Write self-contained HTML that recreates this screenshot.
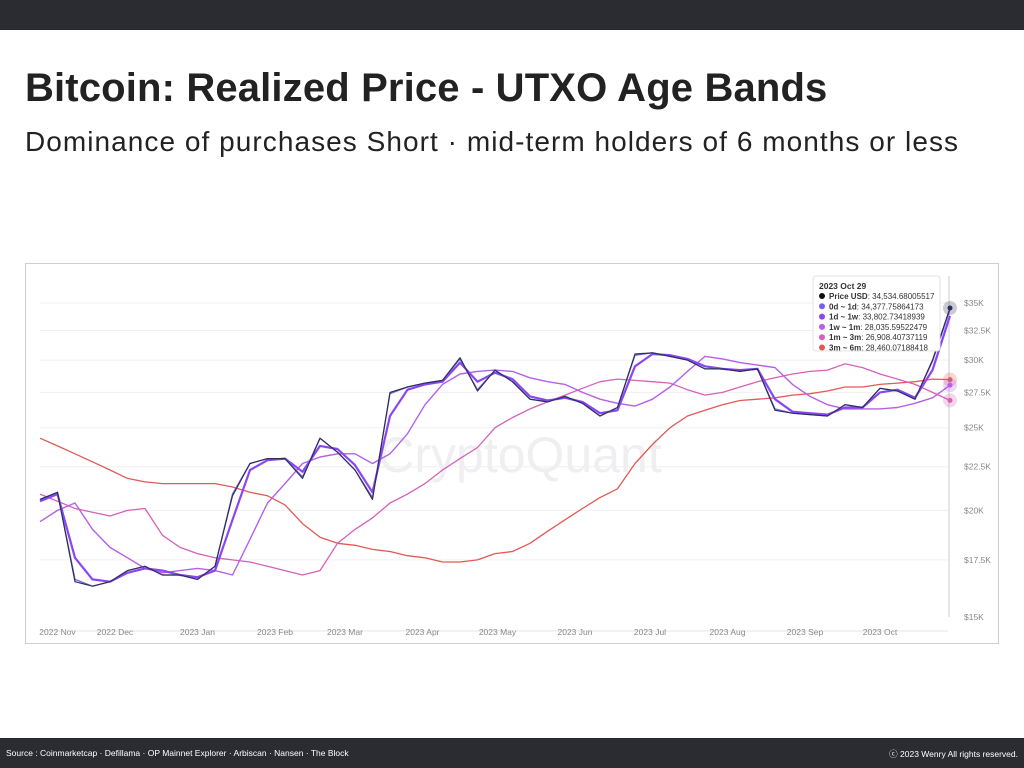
<!DOCTYPE html>
<html><head><meta charset="utf-8"><style>
body{margin:0;width:1024px;height:768px;overflow:hidden;background:#fff;font-family:"Liberation Sans",sans-serif;position:relative}
.top{position:absolute;left:0;top:0;width:1024px;height:30px;background:#2a2c31}
.foot{position:absolute;left:0;top:738px;width:1024px;height:30px;background:#2a2c31;color:#fff;font-size:8.5px}
h1{position:absolute;left:25px;top:66px;margin:0;font-size:40px;font-weight:bold;color:#222;letter-spacing:0.15px}
.sub{position:absolute;left:25px;top:126px;font-size:28px;color:#222;letter-spacing:1.05px}
.box{position:absolute;left:25px;top:263px;width:972px;height:379px;border:1px solid #cfcfcf}
</style></head><body>
<div class="top"></div>
<h1>Bitcoin: Realized Price - UTXO Age Bands</h1>
<div class="sub">Dominance of purchases Short · mid-term holders of 6 months or less</div>
<div class="box"></div>
<svg id="chart" width="1024" height="768" style="position:absolute;left:0;top:0"></svg>
<div class="foot"><span style="position:absolute;left:6px;top:10px">Source : Coinmarketcap · Defillama · OP Mainnet Explorer · Arbiscan · Nansen · The Block</span><span style="position:absolute;right:6px;top:10px">ⓒ 2023 Wenry All rights reserved.</span></div>
<script>
const yTicks=[15,17.5,20,22.5,25,27.5,30,32.5,35];
const yTickLabels=["$15K","$17.5K","$20K","$22.5K","$25K","$27.5K","$30K","$32.5K","$35K"];
const xMonths=["2022 Nov","2022 Dec","2023 Jan","2023 Feb","2023 Mar","2023 Apr","2023 May","2023 Jun","2023 Jul","2023 Aug","2023 Sep","2023 Oct"];
const xMonthDays=[7,30,63,94,122,153,183,214,244,275,306,336];
const price=[20.6,21.0,16.5,16.3,16.5,17.0,17.2,16.8,16.8,16.6,17.2,20.8,22.7,23.0,23.0,21.8,24.3,23.4,22.3,20.6,27.5,27.9,28.2,28.4,30.2,27.6,29.2,28.3,27.0,26.8,27.2,26.7,25.8,26.4,30.5,30.6,30.3,30.0,29.3,29.3,29.1,29.3,26.2,26.0,25.9,25.8,26.6,26.4,27.8,27.6,27.0,30.0,34.53];
const d0_1d=[20.6,21.0,16.6,16.3,16.5,17.0,17.2,16.8,16.8,16.6,17.2,20.9,22.7,23.0,23.0,21.9,24.3,23.4,22.3,20.7,27.4,27.9,28.2,28.4,30.1,27.7,29.2,28.3,27.0,26.8,27.2,26.7,25.8,26.4,30.4,30.6,30.3,30.0,29.3,29.3,29.1,29.3,26.3,26.0,25.9,25.8,26.6,26.4,27.8,27.6,27.0,29.9,34.38];
const d1_1w=[20.5,20.9,17.6,16.6,16.5,16.9,17.1,17.0,16.8,16.7,17.0,19.5,22.3,22.9,23.0,22.2,23.8,23.6,22.6,21.0,25.8,27.7,28.1,28.3,29.8,28.3,29.0,28.5,27.2,26.9,27.1,26.8,26.0,26.2,29.5,30.5,30.4,30.1,29.5,29.3,29.2,29.3,27.0,26.1,26.0,25.9,26.4,26.4,27.5,27.7,27.1,29.2,33.8];
const w1_1m=[19.4,20.0,20.4,19.0,18.1,17.6,17.1,16.9,17.0,17.1,17.0,16.8,18.5,20.4,21.5,22.7,23.1,23.3,23.3,22.7,23.3,24.6,26.6,28.1,28.9,29.1,29.2,29.1,28.6,28.3,28.1,27.5,27.0,26.7,26.5,27.0,27.9,29.1,30.3,30.1,29.8,29.6,29.4,28.1,27.2,26.6,26.3,26.3,26.3,26.4,26.7,27.1,28.04];
const m1_3m=[20.9,20.5,20.1,19.9,19.7,20.0,20.1,18.7,18.1,17.8,17.6,17.5,17.4,17.2,17.0,16.8,17.0,18.3,19.0,19.6,20.4,20.9,21.5,22.3,23.0,23.7,25.0,25.7,26.3,26.8,27.3,27.8,28.3,28.5,28.4,28.3,28.2,27.7,27.3,27.5,27.9,28.3,28.6,28.9,29.1,29.2,29.7,29.4,28.9,28.5,28.1,27.5,26.91];
const m3_6m=[24.3,23.8,23.3,22.8,22.3,21.8,21.6,21.5,21.5,21.5,21.5,21.3,21.0,20.8,20.3,19.3,18.6,18.3,18.2,18.0,17.9,17.7,17.6,17.4,17.4,17.5,17.8,17.9,18.3,18.9,19.5,20.1,20.7,21.2,22.7,23.9,25.0,25.8,26.2,26.6,26.9,27.0,27.1,27.3,27.4,27.6,27.9,27.9,28.1,28.2,28.3,28.5,28.46];
const NS='http://www.w3.org/2000/svg';
const svg=document.getElementById('chart');
const X0=40,PXD=2.5,Y0=617,K=370.6;
const xd=d=>X0+d*PXD;
const xi=i=>xd(i*7);
const y=v=>Y0-K*Math.log(v/15);
function mk(t,a,p){const e=document.createElementNS(NS,t);for(const k in a)e.setAttribute(k,a[k]);(p||svg).appendChild(e);return e;}
yTicks.forEach((v,i)=>{
 if(i>0){const g=mk('line',{x1:40,x2:948,y1:y(v),y2:y(v),stroke:'#f0f0f0','stroke-width':1});
 
 }
 const t=mk('text',{x:964,y:y(v)+3,'font-size':8.5,fill:'#888'});t.textContent=yTickLabels[i];
 
 
});
const ax=mk('line',{x1:40,x2:948,y1:Y0+14,y2:Y0+14,stroke:'#e6e6e6'});


xMonths.forEach((m,i)=>{
 const t=mk('text',{x:xd(xMonthDays[i]),y:635,'font-size':8.5,fill:'#888','text-anchor':'middle'});t.textContent=m;
 
 
});
const wm=mk('text',{x:520,y:472,'font-size':50,fill:'#efeff2','text-anchor':'middle'});wm.textContent='CryptoQuant';


const ch=mk('line',{x1:949,x2:949,y1:276,y2:617,stroke:'#ccc'});


const series=[[m3_6m,'#e05a55',1.3,'series-3m-6m'],[m1_3m,'#d561b8',1.3,'series-1m-3m'],[w1_1m,'#b560e6',1.4,'series-1w-1m'],[d1_1w,'#8b45f5',2.2,'series-1d-1w'],[d0_1d,'#6f63e8',1.3,'series-0d-1d'],[price,'#2e2f57',1.2,'series-price']];
series.forEach(s=>{
 const pts=s[0].map((v,i)=>xi(i).toFixed(1)+','+y(v).toFixed(1)).join(' ');
 const p=mk('polyline',{points:pts,fill:'none',stroke:s[1],'stroke-width':s[2],'stroke-linejoin':'round'});
 
 
});
[[m3_6m,'#e05a55'],[m1_3m,'#d561b8'],[w1_1m,'#b560e6'],[price,'#2e2f57']].forEach(s=>{
 const v=s[0][s[0].length-1];
 const h=mk('circle',{cx:xi(52),cy:y(v),r:7,fill:s[1],opacity:0.25});
 
 
 const c=mk('circle',{cx:xi(52),cy:y(v),r:2.5,fill:s[1]});
 
 
});
const lg=mk('g',{});


mk('rect',{x:813,y:276,width:127,height:75,fill:'#fff',stroke:'#e3e3e3',rx:3},lg);
const lt=mk('text',{x:819,y:289,'font-size':8.5,'font-weight':'bold',fill:'#333'},lg);lt.textContent='2023 Oct 29';
const legNames=['Price USD','0d ~ 1d','1d ~ 1w','1w ~ 1m','1m ~ 3m','3m ~ 6m'];
const legVals=['34,534.68005517','34,377.75864173','33,802.73418939','28,035.59522479','26,908.40737119','28,460.07188418'];
const legCols=['#111','#7a5cf0','#8b45f5','#b560e6','#d561b8','#e05a55'];
legNames.forEach((n,i)=>{
 const yy=299+i*10.3;
 const m=mk('circle',{cx:822,cy:yy-3,r:3,fill:legCols[i]},lg);
 
 
 const t=mk('text',{x:829,y:yy,'font-size':8,fill:'#333'},lg);
 t.innerHTML='<tspan font-weight="bold">'+n+'</tspan>: '+legVals[i];
 
 
});
</script>
</body></html>
